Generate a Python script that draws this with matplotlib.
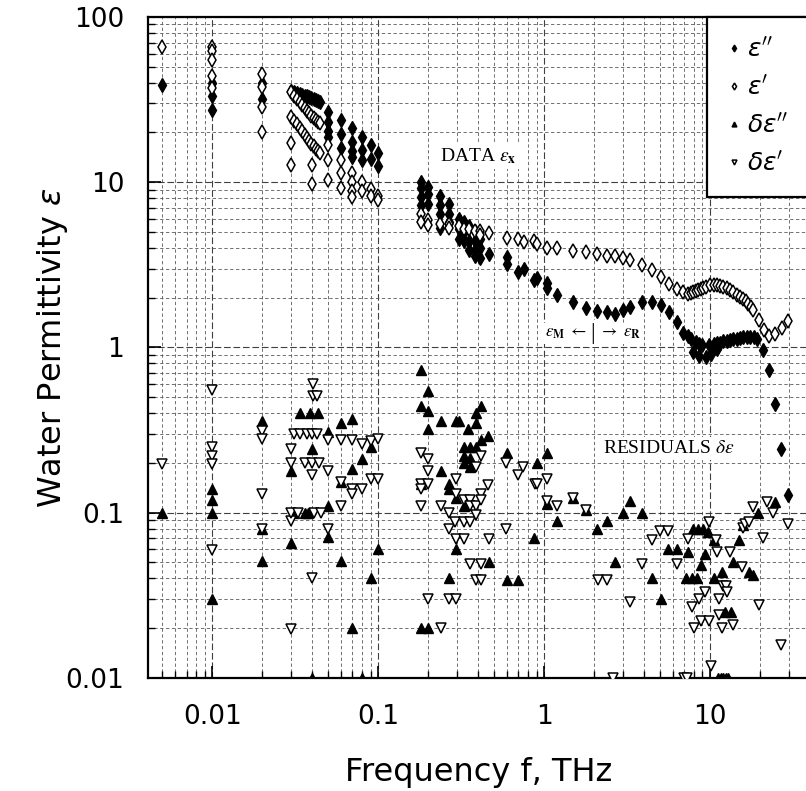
import matplotlib.pyplot as plt
from matplotlib.ticker import LogLocator, NullFormatter

# ---- data: (frequency THz, value) ----

# eps'' (filled diamonds), low frequency columns
eps2_low = [(0.005, 38.7), (0.01, 40), (0.01, 33), (0.01, 27.5), (0.02, 40), (0.02, 32),
            (0.05, 26.7), (0.05, 23.2), (0.05, 20.5), (0.05, 18.8),
            (0.06, 23.8), (0.06, 19.7), (0.06, 16.2),
            (0.07, 21.2), (0.07, 17.5), (0.07, 15.4), (0.07, 14.3),
            (0.08, 18.8), (0.08, 15.6), (0.08, 13.6),
            (0.09, 16.7), (0.09, 13.9), (0.1, 15.1), (0.1, 12.6)]

# dense sweep 0.03-0.045 THz
f_band = [0.0300, 0.0312, 0.0324, 0.0336, 0.0348, 0.0360, 0.0372,
          0.0384, 0.0396, 0.0408, 0.0420, 0.0432, 0.0444]
eps2_band = [35.6, 35.1, 34.7, 34.3, 33.8, 33.4, 33.0, 32.6, 32.2, 31.8, 31.4, 31.0, 30.6]
eps1_band_a = [35.0, 33.4, 32.0, 30.6, 29.4, 28.2, 27.1, 26.1, 25.2, 24.5, 23.8, 23.2, 22.7]
eps1_band_b = [24.9, 23.6, 22.4, 21.3, 20.3, 19.4, 18.6, 17.8, 17.1, 16.5, 15.9, 15.5, 15.1]

eps2_mid = [(0.18, 10.0), (0.18, 9.2), (0.18, 8.15), (0.18, 7.26),
            (0.2, 9.4), (0.2, 8.5), (0.2, 7.4),
            (0.236, 8.3), (0.236, 7.26), (0.236, 6.46), (0.236, 5.3),
            (0.268, 7.4), (0.268, 6.46), (0.268, 5.74),
            (0.305, 6.0), (0.305, 5.2), (0.305, 4.5),
            (0.327, 5.74), (0.327, 5.0), (0.327, 4.4),
            (0.355, 5.4), (0.355, 4.4), (0.355, 3.9),
            (0.384, 5.1), (0.384, 4.4), (0.384, 3.9), (0.384, 3.6),
            (0.411, 4.5), (0.411, 4.0), (0.411, 3.5), (0.468, 3.7)]

eps2_high = [(0.6, 3.55), (0.6, 3.2), (0.70, 2.86), (0.758, 3.0), (0.87, 2.55), (0.90, 2.65),
             (1.04, 2.45), (1.04, 2.28), (1.2, 2.07), (1.5, 1.88), (1.79, 1.74), (2.08, 1.66),
             (2.39, 1.64), (2.68, 1.60), (2.98, 1.69), (3.3, 1.75), (3.88, 1.88), (4.46, 1.88),
             (5.05, 1.80), (5.69, 1.64), (6.3, 1.42), (6.9, 1.22), (7.4, 1.17),
             (7.7, 1.13), (8.2, 1.08), (8.6, 1.05), (9.0, 1.04), (9.9, 1.04), (10.5, 1.05),
             (11.0, 1.06), (11.5, 1.07), (12.0, 1.09), (12.6, 1.10), (13.2, 1.11), (13.8, 1.12),
             (14.5, 1.13), (15.2, 1.14), (15.9, 1.15), (16.6, 1.15), (17.5, 1.16), (18.3, 1.15),
             (19.2, 1.13),
             (7.94, 0.94), (8.6, 0.89), (9.5, 0.87), (10.2, 0.91), (11.0, 0.98),
             (20.9, 0.96), (22.8, 0.73), (24.7, 0.456), (26.8, 0.243), (29.6, 0.128)]

# eps' (open diamonds)
eps1_low = [(0.005, 65.8), (0.01, 66), (0.01, 62), (0.01, 55), (0.01, 44), (0.01, 37),
            (0.02, 45), (0.02, 37.6), (0.02, 28.5), (0.02, 20),
            (0.03, 17.2), (0.03, 12.7), (0.04, 12.7), (0.04, 9.8),
            (0.05, 16.7), (0.05, 13.6), (0.05, 10.3),
            (0.06, 13.6), (0.06, 11.3), (0.06, 9.2),
            (0.07, 11.4), (0.07, 10.0), (0.07, 8.9), (0.07, 8.1),
            (0.08, 10.0), (0.08, 8.9), (0.09, 9.1), (0.09, 8.3), (0.1, 8.3), (0.1, 7.8)]

eps1_mid = [(0.18, 6.46), (0.18, 5.74), (0.2, 5.9), (0.2, 5.5), (0.236, 5.6),
            (0.268, 5.6), (0.268, 5.3), (0.305, 5.4), (0.327, 5.2), (0.355, 5.2),
            (0.384, 5.1), (0.411, 5.1), (0.411, 4.77), (0.468, 4.9)]

eps1_high = [(0.6, 4.6), (0.70, 4.5), (0.758, 4.37), (0.87, 4.4), (0.90, 4.2), (1.04, 4.0),
             (1.2, 3.98), (1.5, 3.85), (1.79, 3.8), (2.08, 3.66), (2.39, 3.6), (2.68, 3.56),
             (2.98, 3.5), (3.3, 3.4), (3.88, 3.14), (4.46, 2.96), (5.05, 2.67), (5.69, 2.43),
             (6.3, 2.27), (6.9, 2.18), (7.4, 2.11),
             (7.7, 2.14), (7.94, 2.18), (8.2, 2.2), (8.5, 2.24), (8.8, 2.27), (9.1, 2.29),
             (9.5, 2.33), (10.0, 2.38), (10.5, 2.39), (11.0, 2.38), (11.5, 2.36), (12.0, 2.32),
             (12.6, 2.28), (13.2, 2.22), (13.8, 2.16), (14.5, 2.09), (15.2, 2.03), (15.9, 1.97),
             (16.5, 1.9), (17.0, 1.84), (17.6, 1.76), (18.2, 1.68), (19.7, 1.46), (21.1, 1.28),
             (22.8, 1.18), (24.6, 1.21), (27.0, 1.32), (29.7, 1.44)]

# residuals d-eps'' (filled triangles)
deps2 = [(0.005, 0.10), (0.01, 0.139), (0.01, 0.12), (0.01, 0.10), (0.01, 0.030),
         (0.02, 0.357), (0.02, 0.08), (0.02, 0.0507),
         (0.034, 0.40), (0.039, 0.40), (0.0435, 0.40),
         (0.03, 0.18), (0.031, 0.10), (0.036, 0.10), (0.038, 0.10), (0.03, 0.066),
         (0.04, 0.243), (0.04, 0.01),
         (0.05, 0.307), (0.05, 0.11), (0.05, 0.071),
         (0.06, 0.35), (0.06, 0.153), (0.06, 0.0507),
         (0.07, 0.37), (0.07, 0.185), (0.07, 0.02),
         (0.08, 0.21), (0.08, 0.01), (0.09, 0.25), (0.09, 0.04), (0.1, 0.06),
         (0.18, 0.726), (0.18, 0.44), (0.18, 0.15), (0.18, 0.02),
         (0.2, 0.548), (0.2, 0.411), (0.2, 0.321), (0.2, 0.02),
         (0.238, 0.36), (0.238, 0.18),
         (0.269, 0.15), (0.269, 0.139), (0.269, 0.04),
         (0.295, 0.36), (0.295, 0.122), (0.295, 0.06), (0.305, 0.36),
         (0.327, 0.25), (0.327, 0.22), (0.327, 0.20), (0.327, 0.11),
         (0.35, 0.32), (0.358, 0.25), (0.358, 0.215), (0.358, 0.19),
         (0.39, 0.40), (0.39, 0.35), (0.39, 0.25),
         (0.417, 0.44), (0.417, 0.275), (0.458, 0.293), (0.468, 0.05),
         (0.6, 0.23), (0.6, 0.039), (0.70, 0.039), (0.87, 0.07), (0.9, 0.2),
         (1.04, 0.23), (1.04, 0.113), (1.2, 0.0893), (1.5, 0.122), (1.8, 0.104),
         (2.08, 0.08), (2.39, 0.0893), (2.68, 0.05), (2.98, 0.099), (3.3, 0.118),
         (3.88, 0.099), (4.46, 0.040), (5.05, 0.030), (5.6, 0.0605), (6.3, 0.0605),
         (7.2, 0.040), (7.4, 0.058), (7.8, 0.040), (7.9, 0.08), (8.3, 0.040), (8.5, 0.08),
         (8.8, 0.048), (9.1, 0.08), (9.3, 0.056), (9.7, 0.0765),
         (10.5, 0.04), (10.6, 0.068), (11.8, 0.044), (12.3, 0.025), (13.4, 0.025),
         (13.7, 0.050), (14.9, 0.068), (15.9, 0.084), (17.1, 0.044), (18.2, 0.042),
         (19.5, 0.1), (24.6, 0.116),
         (11.2, 0.01), (11.6, 0.01), (12.0, 0.01), (12.4, 0.01), (12.8, 0.01)]

# residuals d-eps' (open triangles)
deps1 = [(0.005, 0.197), (0.01, 0.555), (0.01, 0.249), (0.01, 0.22), (0.01, 0.196), (0.01, 0.0594),
         (0.02, 0.314), (0.02, 0.28), (0.02, 0.13), (0.02, 0.08),
         (0.03, 0.243), (0.03, 0.2), (0.03, 0.0895), (0.03, 0.0197),
         (0.031, 0.30), (0.034, 0.30), (0.037, 0.30), (0.040, 0.30), (0.043, 0.30),
         (0.030, 0.10), (0.033, 0.10), (0.041, 0.10), (0.045, 0.10),
         (0.0405, 0.60), (0.0405, 0.51), (0.0425, 0.51), (0.04, 0.17), (0.04, 0.04),
         (0.036, 0.20), (0.040, 0.20), (0.044, 0.20),
         (0.05, 0.275), (0.05, 0.18), (0.05, 0.08),
         (0.06, 0.275), (0.06, 0.153), (0.06, 0.11),
         (0.07, 0.275), (0.07, 0.139), (0.07, 0.13),
         (0.08, 0.26), (0.08, 0.139), (0.09, 0.27), (0.09, 0.16), (0.1, 0.28), (0.1, 0.16),
         (0.18, 0.229), (0.18, 0.15), (0.18, 0.139), (0.18, 0.11),
         (0.2, 0.21), (0.2, 0.18), (0.2, 0.15), (0.2, 0.03),
         (0.238, 0.11), (0.238, 0.02),
         (0.269, 0.10), (0.269, 0.08), (0.269, 0.03),
         (0.295, 0.16), (0.295, 0.13), (0.29, 0.088), (0.295, 0.0696), (0.295, 0.03),
         (0.327, 0.12), (0.327, 0.088), (0.327, 0.0696),
         (0.358, 0.12), (0.358, 0.11), (0.358, 0.088), (0.358, 0.049),
         (0.39, 0.19), (0.39, 0.11), (0.39, 0.097), (0.39, 0.039),
         (0.417, 0.22), (0.417, 0.13), (0.417, 0.12), (0.417, 0.049), (0.417, 0.039),
         (0.458, 0.147), (0.468, 0.0696),
         (0.59, 0.2), (0.59, 0.08), (0.70, 0.17), (0.75, 0.19), (0.88, 0.15), (0.91, 0.15),
         (1.04, 0.16), (1.04, 0.117), (1.2, 0.11), (1.5, 0.122), (1.8, 0.104),
         (2.1, 0.039), (2.4, 0.039), (3.3, 0.029), (3.88, 0.049), (4.46, 0.068),
         (4.96, 0.078), (5.6, 0.078), (6.3, 0.049),
         (7.4, 0.0696), (7.8, 0.027), (8.0, 0.020), (8.6, 0.030), (8.8, 0.022), (9.3, 0.033),
         (9.9, 0.088), (9.9, 0.022), (10.2, 0.0118),
         (10.8, 0.068), (11.0, 0.058), (11.3, 0.024), (11.4, 0.030), (11.8, 0.020), (12.0, 0.036),
         (12.4, 0.036), (12.7, 0.033), (13.2, 0.058), (13.7, 0.021),
         (15.6, 0.047), (15.7, 0.081), (16.3, 0.085), (17.1, 0.088), (18.2, 0.109),
         (19.6, 0.0275), (20.9, 0.07), (22, 0.116), (24, 0.10), (26.7, 0.0158), (29.5, 0.086),
         (2.6, 0.01), (7.0, 0.01), (7.3, 0.01)]

xticks = [0.01, 0.1, 1, 10]
xticklabels = ["0.01", "0.1", "1", "10"]
yticks = [0.01, 0.1, 1, 10, 100]
yticklabels = ["0.01", "0.1", "1", "10", "100"]
legend_labels = [r"$\epsilon''$", r"$\epsilon'$", r"$\delta\epsilon''$", r"$\delta\epsilon'$"]


def split(pts):
    return [p[0] for p in pts], [p[1] for p in pts]


f2 = split(eps2_low)[0] + f_band + split(eps2_mid)[0] + split(eps2_high)[0]
v2 = split(eps2_low)[1] + eps2_band + split(eps2_mid)[1] + split(eps2_high)[1]
f1 = split(eps1_low)[0] + f_band + f_band + split(eps1_mid)[0] + split(eps1_high)[0]
v1 = split(eps1_low)[1] + eps1_band_a + eps1_band_b + split(eps1_mid)[1] + split(eps1_high)[1]
fd2, vd2 = split(deps2)
fd1, vd1 = split(deps1)

fig = plt.figure(figsize=(8.06, 7.91), dpi=100)
ax = fig.add_axes([0.1836, 0.1429, 0.8213, 0.8357])

h1, = ax.plot(f2, v2, ls="none", marker="d", ms=7, color="black", zorder=3)
h2, = ax.plot(f1, v1, ls="none", marker="d", ms=7, mfc="white", mec="black", mew=1.1, zorder=4)
h3, = ax.plot(fd2, vd2, ls="none", marker="^", ms=7, color="black", zorder=3)
h4, = ax.plot(fd1, vd1, ls="none", marker="v", ms=7, mfc="white", mec="black", mew=1.1, zorder=4)

ax.set_xscale("log")
ax.set_yscale("log")
ax.set_xlim(0.0041, 40)
ax.set_ylim(0.01, 100)

ax.set_xticks(xticks, labels=xticklabels)
ax.set_yticks(yticks, labels=yticklabels)
ax.xaxis.set_minor_locator(LogLocator(base=10, subs=range(2, 10), numticks=20))
ax.yaxis.set_minor_locator(LogLocator(base=10, subs=range(2, 10), numticks=20))
ax.xaxis.set_minor_formatter(NullFormatter())
ax.yaxis.set_minor_formatter(NullFormatter())

ax.tick_params(which="both", direction="in", top=False, right=False, labelsize=19)
ax.tick_params(which="major", length=9, width=1.2)
ax.tick_params(which="minor", length=5, width=1.0)
ax.tick_params(axis="x", pad=19)
ax.tick_params(axis="y", pad=17)

ax.set_axisbelow(True)
ax.grid(which="major", ls=(0, (6, 2.5)), lw=0.8, color="0.25")
ax.grid(which="minor", ls=(0, (4, 3)), lw=0.6, color="0.35")

for s in ax.spines.values():
    s.set_linewidth(1.6)

ax.set_xlabel("Frequency f, THz", fontsize=23, va="center")
ax.set_ylabel(r"Water Permittivity $\epsilon$", fontsize=23, va="center")
ax.xaxis.set_label_coords(0.5, -0.1437)
ax.yaxis.set_label_coords(-0.1435, 0.5)

leg = ax.legend([h1, h2, h3, h4], legend_labels, loc="upper right", fontsize=18,
                markerscale=0.5, handlelength=0.4, handletextpad=0.35,
                labelspacing=0.55, borderpad=0.85, borderaxespad=0,
                fancybox=False, framealpha=1, edgecolor="black")
leg.get_frame().set_linewidth(1.6)

serif = dict(family="Liberation Serif", math_fontfamily="stix", color="black",
             bbox=dict(facecolor="white", edgecolor="none", pad=2))
ax.text(0.236, 14.4, r"DATA $\epsilon_\mathbf{x}$", fontsize=14, ha="left", va="center", **serif)
ax.text(2.27, 0.244, r"RESIDUALS $\delta\epsilon$", fontsize=14, ha="left", va="center", **serif)
ax.text(1.82, 1.216, r"$\epsilon_\mathbf{M}\ \leftarrow$", fontsize=12, ha="right", va="center", **serif)
ax.text(1.97, 1.216, "|", fontsize=17, ha="center", va="center", **serif)
ax.text(2.13, 1.216, r"$\rightarrow\ \epsilon_\mathbf{R}$", fontsize=12, ha="left", va="center", **serif)

fig.savefig("out.png", dpi=100)
